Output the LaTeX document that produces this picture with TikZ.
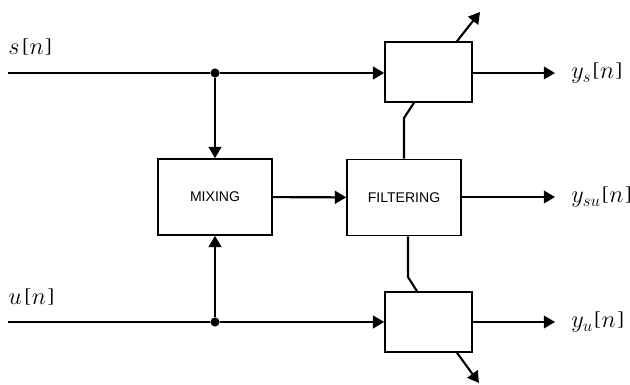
\documentclass[tikz,border=0pt]{standalone}
\usepackage{fontspec}
\usetikzlibrary{arrows.meta,positioning,calc}
\newfontfamily\boxfont{Liberation Sans}
\newfontfamily\lblfont{Liberation Serif}
% signal label: letter, subscript
\newcommand\brk[1]{\raisebox{1.5pt}{\fontsize{14}{14}\selectfont#1}}
\newcommand\sigl[2]{$#1_{#2}$\kern1pt\brk{[}\kern0.5pt$n$\kern1pt\brk{]}}

\begin{document}
\begin{tikzpicture}[x=0.025cm,y=-0.025cm,
    blk/.style={draw,line width=1.1pt,minimum width=2.85cm,minimum height=1.9cm,font=\boxfont\normalsize},
    sblk/.style={draw,line width=1.1pt,minimum width=2.175cm,minimum height=1.5cm},
    dot/.style={circle,fill,inner sep=0pt,minimum size=6.5pt},
    wire/.style={line width=1.5pt},
    sig/.style={wire,-{Triangle[length=8pt,width=9pt]}},
    lbl/.style={font=\lblfont\fontsize{17}{17}\selectfont,inner sep=0pt}]
  \useasboundingbox (0,0) rectangle (630,385);

  % blocks
  \node[blk] (mix) at (215,197) {MIXING};
  \node[blk] (filt) at (404,197.5) {FILTERING};
  \node[sblk] (upper) at (428.5,72) {};
  \node[sblk] (lower) at (428.5,322) {};

  % branch points
  \node[dot] (sdot) at (215,73) {};
  \node[dot] (udot) at (215,322) {};

  % free ends
  \coordinate (sin) at (8,73);
  \coordinate (uin) at (8,322);
  \coordinate (ysout) at (555,73);
  \coordinate (ysuout) at (555,197);
  \coordinate (yuout) at (555,322);
  \coordinate (uptip) at (480,12);
  \coordinate (lowtip) at (479,383);
  \coordinate (kup) at (404,118);
  \coordinate (klow) at (408,277);

  % inputs
  \draw[wire] (sin) -- (sdot);
  \draw[sig] (sdot) -- (sdot -| upper.west);
  \draw[sig] (sdot) -- (mix.north);
  \draw[wire] (uin) -- (udot);
  \draw[sig] (udot) -- (udot -| lower.west);
  \draw[sig] (udot) -- (mix.south);
  \draw[sig] (mix) -- (filt);

  % filter to side blocks
  \draw[wire] (filt.north) -- (kup) -- ($(upper.south)+(-14.5,0)$);
  \draw[wire] (filt.south -| klow) -- (klow) -- ($(lower.north)+(-11.5,0)$);
  \draw[sig] ($(upper.north)+(28.5,0)$) -- (uptip);
  \draw[sig] ($(lower.south)+(28.5,0)$) -- (lowtip);

  % outputs
  \draw[sig] (upper.east |- ysout) -- (ysout);
  \draw[sig] (filt.east |- ysuout) -- (ysuout);
  \draw[sig] (lower.east |- yuout) -- (yuout);

  % labels
  \node[lbl,anchor=west] (slbl) at (8,47) {$s$\kern2pt\brk{[}\kern0.5pt$n$\kern1pt\brk{]}};
  \node[lbl,anchor=west] (ulbl) at (8,297) {$u$\kern2pt\brk{[}\kern0.5pt$n$\kern1pt\brk{]}};
  \node[lbl,anchor=west] (yslbl) at (571,73) {\sigl{y}{s}};
  \node[lbl,anchor=west] (ysulbl) at (571,197) {\sigl{y}{su}};
  \node[lbl,anchor=west] (yulbl) at (571,322) {\sigl{y}{u}};
\end{tikzpicture}
\end{document}
